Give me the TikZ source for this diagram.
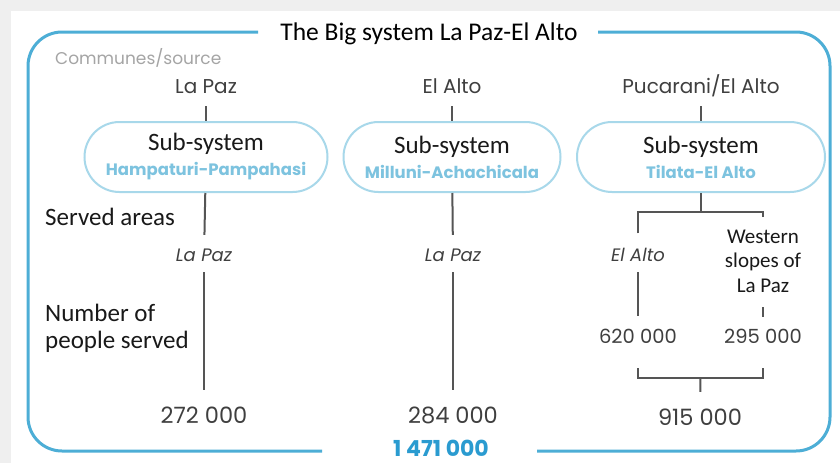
\documentclass[tikz,border=0pt]{standalone}
\usepackage{fontspec}
\setmainfont{Carlito}
\newfontfamily\geofont{Poppins}
\usetikzlibrary{positioning, calc}
\definecolor{cframe}{HTML}{4DAED6}
\definecolor{cpill}{HTML}{A8D8EA}
\definecolor{cname}{HTML}{7DC3DF}
\definecolor{ctotal}{HTML}{2A9BD0}
\definecolor{cline}{HTML}{555555}
\definecolor{ctext}{HTML}{3F3F3F}
\definecolor{clight}{HTML}{A5A5A5}
\definecolor{cbg}{HTML}{EFEFEF}
\tikzset{
  frame/.style={draw=cframe, line width=3pt, rounded corners=34pt},
  pill/.style={draw=cpill, line width=2pt, rounded corners=35pt, minimum height=70pt, align=center, inner sep=0pt,
    font=\fontsize{25}{26}\selectfont, text=black!90},
  source/.style={font=\geofont\fontsize{20}{22}\selectfont, text=ctext, inner sep=0pt, text height=15pt, text depth=4pt},
  area/.style={font=\geofont\itshape\fontsize{18}{20}\selectfont, text=ctext, inner sep=0pt, text height=12pt, text depth=3pt},
  num/.style={font=\geofont\fontsize{22.5}{24}\selectfont, text=ctext, inner sep=0pt, text height=16pt, text depth=0pt},
  label/.style={font=\fontsize{25}{27}\selectfont, text=black!90, inner sep=0pt, align=left, anchor=west},
  link/.style={draw=cline, line width=2pt},
}

\begin{document}
\begin{tikzpicture}[x=1pt, y=-1pt]
  \useasboundingbox (0,0) rectangle (840,463);
  \fill[cbg] (0,0) rectangle (840,463);
  \fill[white] (11,11) rectangle (840,463);
  % outer frame, open for the title and the grand total
  \draw[frame] (258,32) -- (28,32) -- (28,451) -- (322,451);
  \draw[frame] (537,451) -- (830,451) -- (830,32) -- (598,32);
  \node[font=\fontsize{25.5}{27}\selectfont, inner sep=0pt] (title) at (429,34) {The Big system La Paz-El Alto};
  \node[font=\geofont\fontsize{17}{18}\selectfont, text=clight, inner sep=0pt, anchor=west] (communes) at (55,58) {Communes/source};

  % one column per sub-system
  \foreach \i/\x/\src/\sub/\w in {
      0/206/La Paz/Hampaturi-Pampahasi/243,
      1/452/El Alto/Milluni-Achachicala/217,
      2/701/Pucarani\slash El Alto/Tilata-El Alto/248} {
    \node[source] (c\i) at (\x,88) {\src};
    \node[pill, minimum width=\w] (p\i) at (\x,157) {Sub-system\\[-1pt]{\geofont\bfseries\fontsize{16.5}{20}\selectfont\color{cname}\sub}};
    \draw[link, shorten <=8.5pt] (c\i) -- (p\i);
  }

  \node[label] (served) at (45,217) {Served areas};
  \node[label] (people) at (45,328) {Number of\\people served};

  % served areas
  \node[area] (s0) at (204,257) {La Paz};
  \node[area] (s1) at (453,257) {La Paz};
  \node[area] (s2a) at (638,257) {El Alto};
  \node[font=\fontsize{21}{24.5}\selectfont, align=center, inner sep=0pt, text=black!90] (s2b) at (763,261) {Western\\slopes of\\La Paz};

  % people served
  \node[num] (n0) at (204,415) {272 000};
  \node[num] (n1) at (453,415) {284 000};
  \node[num, font=\geofont\fontsize{19.5}{20}\selectfont] (n2a) at (638,335) {620 000};
  \node[num, font=\geofont\fontsize{19.5}{20}\selectfont] (n2b) at (763,335) {295 000};
  \node[num] (t2) at (700,417) {915 000};
  \node[num, font=\geofont\bfseries\fontsize{22}{24}\selectfont, text=ctotal] (total) at (441,448) {1 471 000};

  \draw[link, shorten >=14.5pt] (p0) -- (s0);
  \draw[link, shorten >=14.5pt] (p1) -- (s1);
  \draw[link, shorten <=7.5pt, shorten >=17pt] (s0) -- (n0);
  \draw[link, shorten <=7.5pt, shorten >=17pt] (s1) -- (n1);

  % split of the third sub-system
  \coordinate (fork) at (701,212);
  \coordinate (hook) at (763,217);
  \draw[link] (p2) -- (fork);
  \draw[link, shorten <=16pt] (s2a.north) |- (fork) -| (hook);
  \draw[link, shorten <=7.5pt, shorten >=11pt] (s2a) -- (n2a);
  \draw[link, shorten <=10pt] (n2b.north) -- ++(0,-20);
  \draw[link] (n2a.south) ++(0,25) -- ++(0,10) -| ($(n2b.south)+(0,25)$);
  \coordinate (brk) at ($(n2a.south)!0.5!(n2b.south)+(0,35)$);
  \draw[link, shorten >=17pt] (brk) -- (t2.north);
\end{tikzpicture}
\end{document}
